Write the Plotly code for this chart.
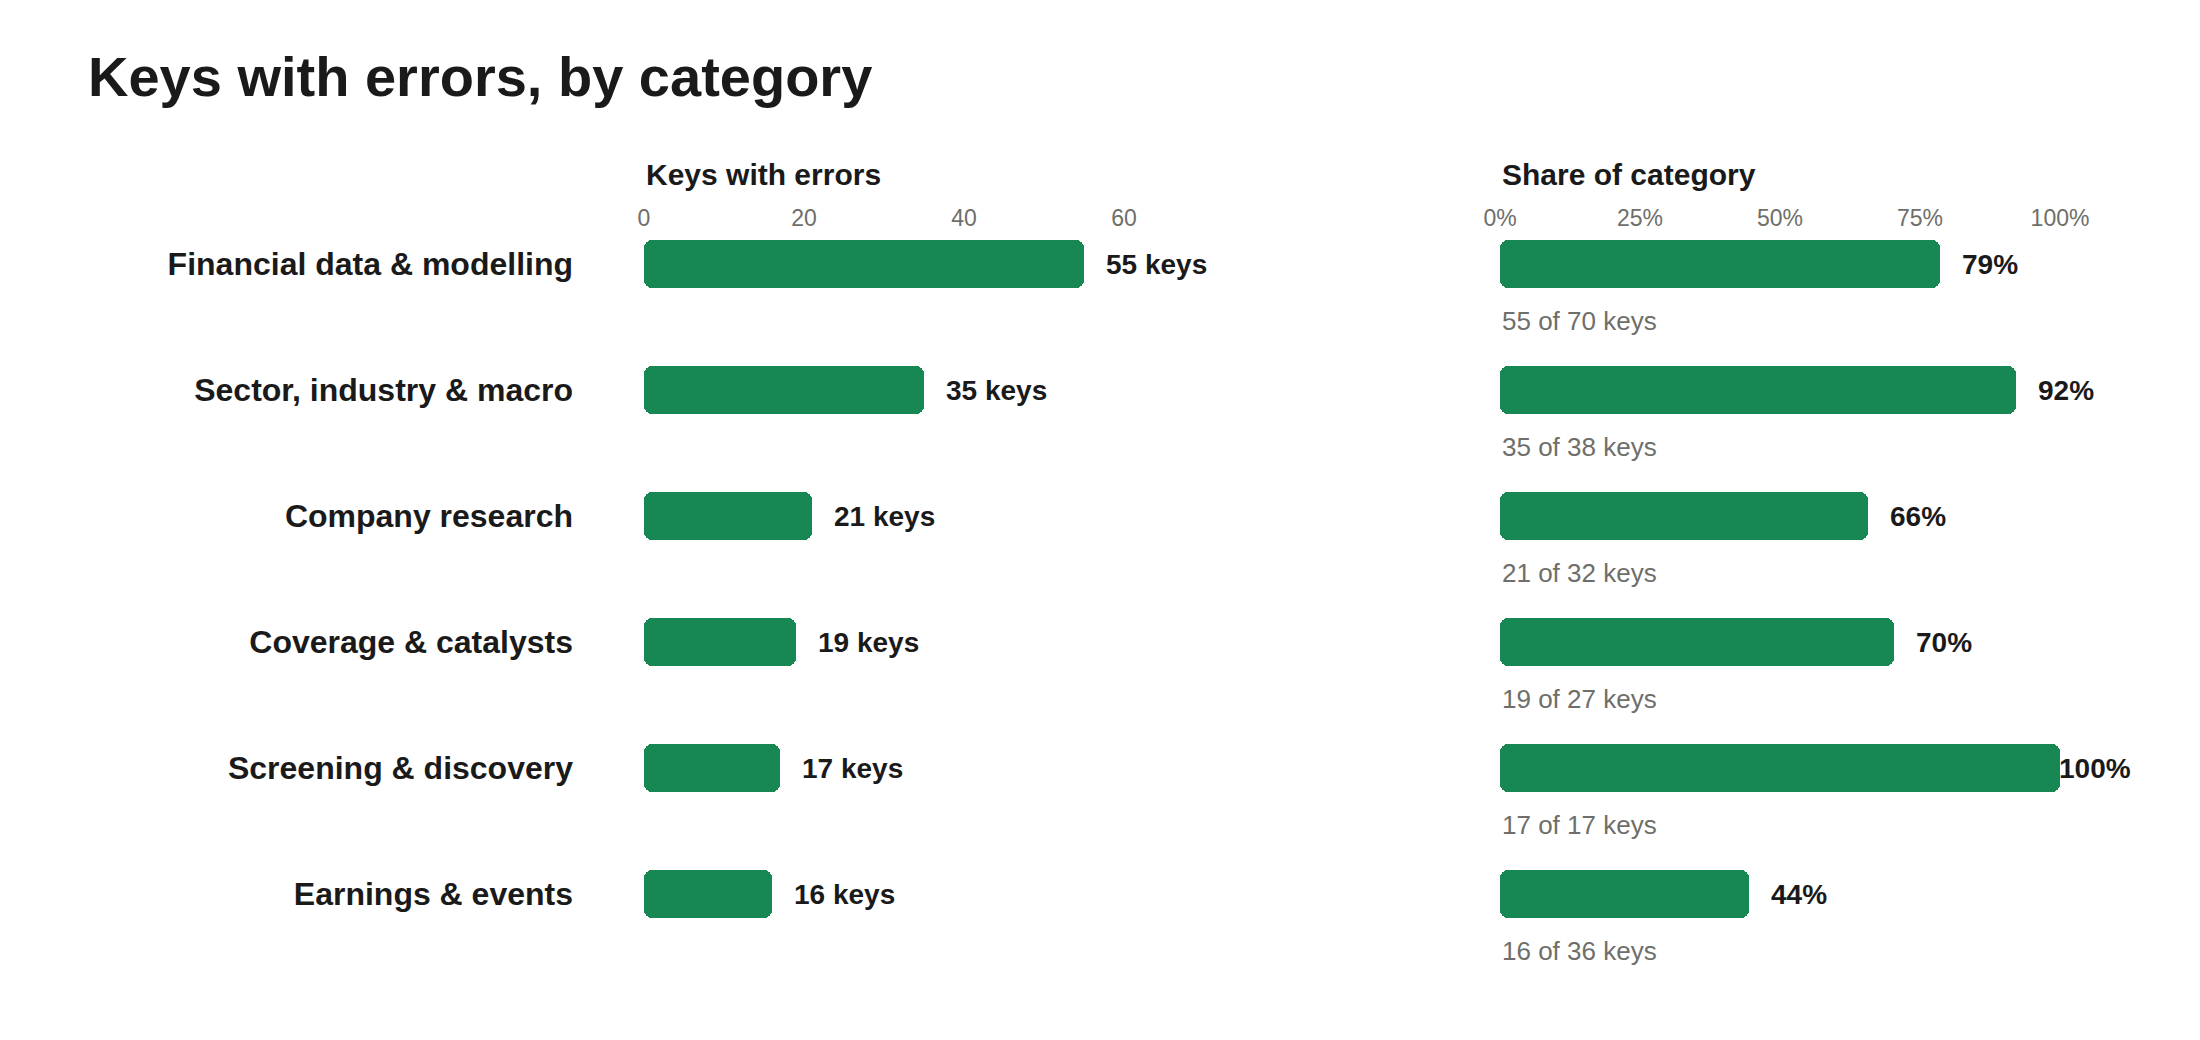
import plotly.graph_objects as go
from plotly.subplots import make_subplots

categories = [
    "Financial data & modelling",
    "Sector, industry & macro",
    "Company research",
    "Coverage & catalysts",
    "Screening & discovery",
    "Earnings & events",
]
keys_with_errors = [55, 35, 21, 19, 17, 16]
category_totals = [70, 38, 32, 27, 17, 36]

left_ticks = [0, 20, 40, 60]
share_ticks = [0, 0.25, 0.5, 0.75, 1.0]
share_tick_labels = ["0%", "25%", "50%", "75%", "100%"]

shares = [k / t for k, t in zip(keys_with_errors, category_totals)]

GREEN = "#178753"
DARK = "#1a1a1a"
GREY = "#6e6e6a"
FONT = "Liberation Sans, Arial, Helvetica, sans-serif"

W, H = 2200, 1040
OFF = 8  # page offset of the figure, in px


def px_x(v):
    return (v - OFF) / W


def px_y(v):
    return 1 - (v - OFF) / H


def rounded_bars(values, col):
    # plotly only rounds the far end of a bar, so each bar is drawn as two
    # overlapping halves: one growing right from the middle, one growing left
    mids = [v * 0.4 for v in values]
    fig.add_trace(go.Bar(
        x=[v - m for v, m in zip(values, mids)], base=mids, y=categories,
        orientation="h", width=0.375, hoverinfo="skip", showlegend=False,
        marker=dict(color=GREEN, cornerradius=8, line=dict(width=0)),
    ), row=1, col=col)
    fig.add_trace(go.Bar(
        x=[-v * 0.6 for v in values], base=[v * 0.6 for v in values], y=categories,
        orientation="h", width=0.375, hoverinfo="skip", showlegend=False,
        marker=dict(color=GREEN, cornerradius=8, line=dict(width=0)),
    ), row=1, col=col)


fig = make_subplots(rows=1, cols=2)
rounded_bars(keys_with_errors, 1)
rounded_bars(shares, 2)

annotations = []
for i, cat in enumerate(categories):
    # count label to the right of the left bar
    annotations.append(dict(
        xref="x", yref="y", x=keys_with_errors[i], y=cat,
        text=f"{keys_with_errors[i]} keys", showarrow=False,
        xanchor="left", yanchor="middle", xshift=20,
        font=dict(family=FONT, size=28, color=DARK, weight="bold"),
    ))
    # percent label, kept inside the panel for full bars
    shift = 20 if shares[i] < 0.99 else -3
    annotations.append(dict(
        xref="x2", yref="y2", x=shares[i], y=cat,
        text=f"{round(shares[i] * 100)}%", showarrow=False,
        xanchor="left", yanchor="middle", xshift=shift,
        font=dict(family=FONT, size=28, color=DARK, weight="bold"),
    ))
    # "n of m keys" under the share bar
    annotations.append(dict(
        xref="x2", yref="y2", x=0, y=cat,
        text=f"{keys_with_errors[i]} of {category_totals[i]} keys", showarrow=False,
        xanchor="left", yanchor="middle", yshift=-57,
        font=dict(family=FONT, size=26, color=GREY),
    ))

annotations.append(dict(
    xref="x domain", yref="paper", x=0, y=px_y(174),
    text="Keys with errors", showarrow=False, xanchor="left", yanchor="middle",
    font=dict(family=FONT, size=30, color=DARK, weight="bold"),
))
annotations.append(dict(
    xref="x2 domain", yref="paper", x=0, y=px_y(174),
    text="Share of category", showarrow=False, xanchor="left", yanchor="middle",
    font=dict(family=FONT, size=30, color=DARK, weight="bold"),
))

fig.update_layout(
    width=W, height=H,
    margin=dict(l=0, r=0, t=0, b=0, autoexpand=False),
    paper_bgcolor="white", plot_bgcolor="white",
    title=dict(
        text="Keys with errors, by category",
        x=px_x(88), xanchor="left", y=px_y(76), yanchor="middle",
        font=dict(family=FONT, size=56, color=DARK, weight="bold"),
    ),
    annotations=annotations,
    barmode="overlay",
    bargap=0,
)

fig.update_xaxes(
    side="top", showgrid=False, zeroline=False, showline=False, ticks="",
    automargin=False,
    tickfont=dict(family=FONT, size=23, color=GREY), fixedrange=True,
)
fig.update_xaxes(domain=[px_x(644), px_x(1204)], range=[0, 70], tickvals=left_ticks, row=1, col=1)
fig.update_xaxes(domain=[px_x(1500), px_x(2060)], range=[0, 1], tickvals=share_ticks,
                 ticktext=share_tick_labels, row=1, col=2)

fig.update_yaxes(
    domain=[px_y(957), px_y(232)], range=[5.5, -0.254], showgrid=False, zeroline=False,
    showline=False, ticks="", fixedrange=True, automargin=False,
)
fig.update_yaxes(
    tickfont=dict(family=FONT, size=32, color=DARK, weight="bold"),
    ticklabelstandoff=70, row=1, col=1,
)
fig.update_yaxes(showticklabels=False, row=1, col=2)

fig.write_html("out.html")
